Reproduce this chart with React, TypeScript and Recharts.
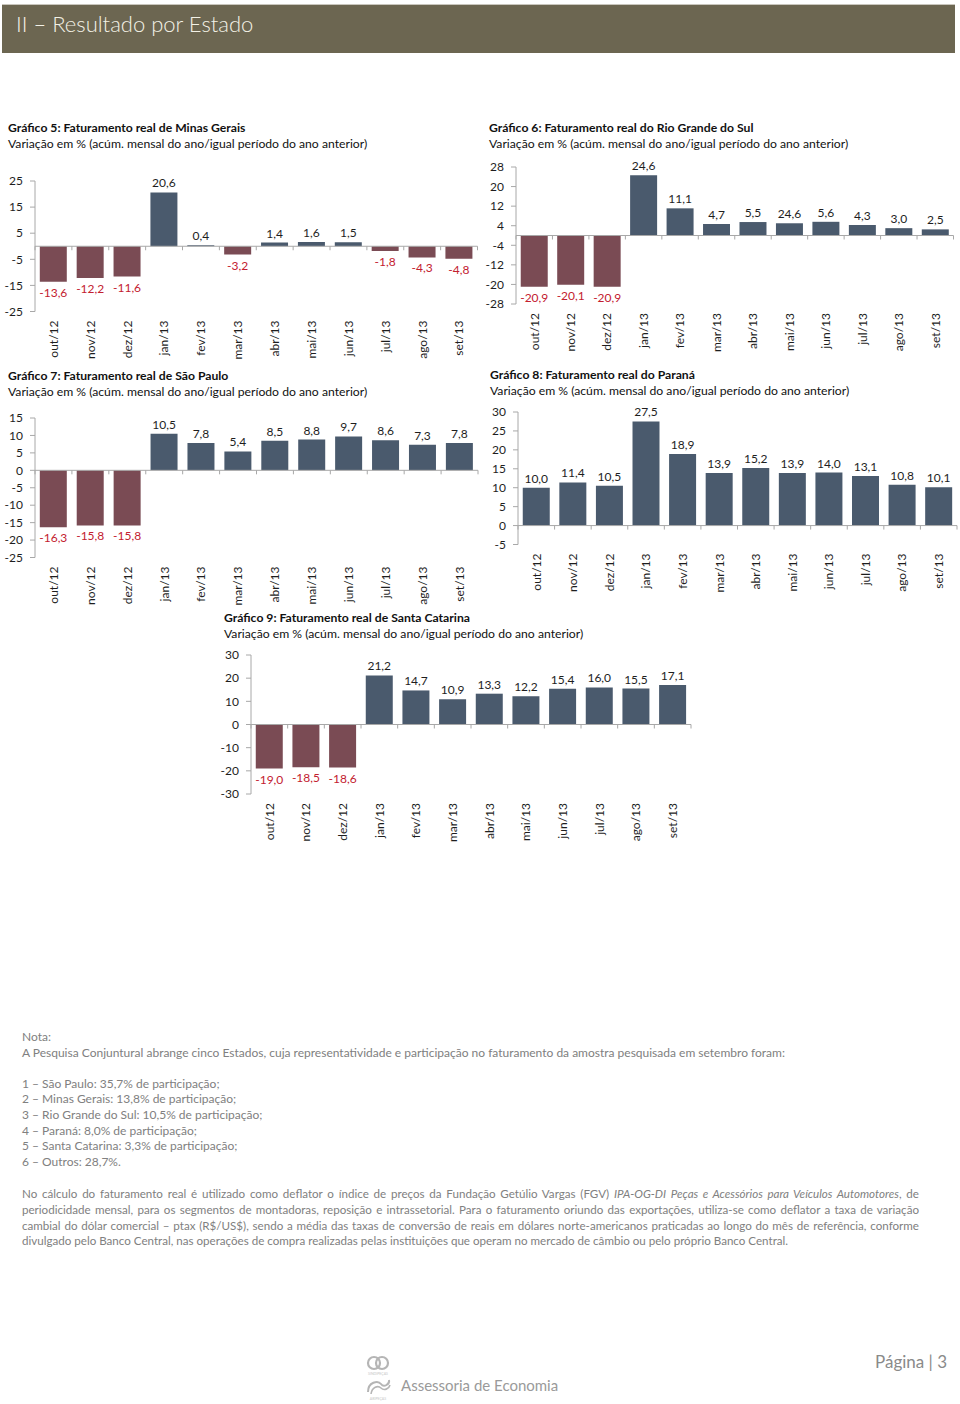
import React from 'react';
import { BarChart, Bar, XAxis, YAxis, Cell, LabelList, ReferenceLine } from 'recharts';

const FONT = 'Lato, "DejaVu Sans", sans-serif';
const POS = '#4a5a6d';
const NEG = '#7a4b54';
const NEG_TXT = '#c3202f';
const AXIS = '#a8a8a8';

const months = ['out/12', 'nov/12', 'dez/12', 'jan/13', 'fev/13', 'mar/13', 'abr/13', 'mai/13', 'jun/13', 'jul/13', 'ago/13', 'set/13'];

const mgValues = [-13.6, -12.2, -11.6, 20.6, 0.4, -3.2, 1.4, 1.6, 1.5, -1.8, -4.3, -4.8];
const mgTicks = [-25, -15, -5, 5, 15, 25];

const rsValues = [-20.9, -20.1, -20.9, 24.6, 11.1, 4.7, 5.5, 5.0, 5.6, 4.3, 3.0, 2.5];
const rsLabels = ['-20,9', '-20,1', '-20,9', '24,6', '11,1', '4,7', '5,5', '24,6', '5,6', '4,3', '3,0', '2,5'];
const rsTicks = [-28, -20, -12, -4, 4, 12, 20, 28];

const spValues = [-16.3, -15.8, -15.8, 10.5, 7.8, 5.4, 8.5, 8.8, 9.7, 8.6, 7.3, 7.8];
const spTicks = [-25, -20, -15, -10, -5, 0, 5, 10, 15];

const prValues = [10.0, 11.4, 10.5, 27.5, 18.9, 13.9, 15.2, 13.9, 14.0, 13.1, 10.8, 10.1];
const prTicks = [-5, 0, 5, 10, 15, 20, 25, 30];

const scValues = [-19.0, -18.5, -18.6, 21.2, 14.7, 10.9, 13.3, 12.2, 15.4, 16.0, 15.5, 17.1];
const scTicks = [-30, -20, -10, 0, 10, 20, 30];

const subtitle = 'Variação em % (acúm. mensal do ano/igual período do ano anterior)';

const fmt = (v: number) => v.toFixed(1).replace('.', ',');

const RotTick = (props: any) => {
  const { x, y, payload } = props;
  return (
    <text x={x} y={y} transform={`rotate(-90 ${x} ${y})`} textAnchor="end" dy="0.36em" fontSize={12} fill="#1e1e1e" fontFamily={FONT}>
      {payload.value}
    </text>
  );
};

const ValueLabel = (props: any) => {
  const { x, y, width, height, value } = props;
  const s = String(value);
  const neg = s.startsWith('-');
  const top = Math.min(y, y + height);
  const bottom = Math.max(y, y + height);
  const cx = x + width / 2;
  return (
    <text x={cx} y={neg ? bottom + 15 : top - 5} textAnchor="middle" fontSize={12} fill={neg ? NEG_TXT : '#1e1e1e'} fontFamily={FONT}>
      {s}
    </text>
  );
};

const makeZeroLine = (n: number) => (p: any) => {
  const { x1, x2, y1 } = p;
  const step = (x2 - x1) / n;
  const marks = [];
  for (let i = 0; i <= n; i++) {
    const xx = x1 + i * step;
    marks.push(<line key={i} x1={xx} x2={xx} y1={y1} y2={y1 + 4} stroke={AXIS} strokeWidth={1} />);
  }
  return (
    <g>
      <line x1={x1} x2={x2} y1={y1} y2={y1} stroke={AXIS} strokeWidth={1} />
      {marks}
    </g>
  );
};

type ChartProps = {
  title: string;
  titleX: number;
  titleY: number;
  plot: [number, number, number, number];
  values: number[];
  labels?: string[];
  ticks: number[];
};

const StateChart = ({ title, titleX, titleY, plot, values, labels, ticks }: ChartProps) => {
  const [pl, pt, pr, pb] = plot;
  const yw = 40;
  const cl = pl - yw;
  const ct = pt - 12;
  const w = pr - cl + 4;
  const xh = 60;
  const h = pb - ct + xh;
  const data = months.map((m, i) => ({ m, v: values[i], lab: labels ? labels[i] : fmt(values[i]) }));
  const dom: [number, number] = [ticks[0], ticks[ticks.length - 1]];
  return (
    <>
      <div style={{ position: 'absolute', left: titleX, top: titleY - 8, fontFamily: FONT, fontSize: 12.2, lineHeight: '16px', color: '#111', whiteSpace: 'nowrap' }}>
        <div style={{ fontWeight: 700 }}>{title}</div>
        <div>{subtitle}</div>
      </div>
      <div style={{ position: 'absolute', left: cl, top: ct }}>
        <BarChart width={w} height={h} data={data} margin={{ top: 12, right: 4, bottom: 0, left: 0 }} barCategoryGap="13%">
          <XAxis dataKey="m" type="category" interval={0} axisLine={false} tickLine={false} tickSize={0} tickMargin={9} height={xh} tick={RotTick} />
          <YAxis
            type="number"
            domain={dom}
            ticks={ticks}
            interval={0}
            width={yw}
            allowDataOverflow
            axisLine={{ stroke: AXIS }}
            tickLine={{ stroke: AXIS }}
            tickSize={5}
            tickMargin={7}
            tick={{ fontSize: 12, fill: '#1e1e1e', fontFamily: FONT }}
          />
          <Bar dataKey="v" isAnimationActive={false}>
            {data.map((d, i) => (
              <Cell key={i} fill={d.v >= 0 ? POS : NEG} />
            ))}
            <LabelList dataKey="lab" content={ValueLabel} />
          </Bar>
          <ReferenceLine y={0} shape={makeZeroLine(data.length)} ifOverflow="visible" />
        </BarChart>
      </div>
    </>
  );
};

const noteLines = [
  '1 – São Paulo: 35,7% de participação;',
  '2 – Minas Gerais: 13,8% de participação;',
  '3 – Rio Grande do Sul: 10,5% de participação;',
  '4 – Paraná: 8,0% de participação;',
  '5 – Santa Catarina: 3,3% de participação;',
  '6 – Outros: 28,7%.',
];

const Logo = () => (
  <svg width={30} height={48} style={{ position: 'absolute', left: 363, top: 1354 }}>
    <circle cx={11} cy={9} r={6} fill="none" stroke="#b5b5b5" strokeWidth={2.2} />
    <circle cx={19} cy={9} r={6} fill="none" stroke="#b5b5b5" strokeWidth={2.2} />
    <text x={15} y={21} textAnchor="middle" fontSize={3.5} fill="#c8c8c8" fontFamily={FONT}>SINDIPEÇAS</text>
    <path d="M5 38 C 5 28, 15 26, 18 30 C 21 34, 27 30, 26 26" fill="none" stroke="#b5b5b5" strokeWidth={2} />
    <path d="M8 40 C 9 33, 15 31, 18 34 C 21 37, 26 35, 27 31" fill="none" stroke="#b5b5b5" strokeWidth={1.6} />
    <text x={15} y={46} textAnchor="middle" fontSize={3.5} fill="#c8c8c8" fontFamily={FONT}>ABIPEÇAS</text>
  </svg>
);

const justifyLine: React.CSSProperties = { textAlign: 'justify', textAlignLast: 'justify' as any, whiteSpace: 'nowrap', overflow: 'visible' };

export default function App() {
  return (
    <div style={{ position: 'absolute', left: 0, top: 0, width: 960, height: 1404, background: '#fff', overflow: 'hidden' }}>
      <div style={{ position: 'absolute', left: 2, top: 4, width: 953, height: 49, background: '#6c6651', borderTop: '1px solid #c9c6bd', boxSizing: 'border-box' }} />
      <div style={{ position: 'absolute', left: 16, top: 10, fontFamily: FONT, fontWeight: 300, fontSize: 22, color: '#f3f1e6', whiteSpace: 'nowrap', lineHeight: '28px' }}>
        II – Resultado por Estado
      </div>

      <StateChart title="Gráfico 5: Faturamento real de Minas Gerais" titleX={8} titleY={128} plot={[35, 180.5, 477.5, 311]} values={mgValues} ticks={mgTicks} />
      <StateChart title="Gráfico 6: Faturamento real do Rio Grande do Sul" titleX={489} titleY={128} plot={[515.5, 166.5, 953, 303.5]} values={rsValues} labels={rsLabels} ticks={rsTicks} />
      <StateChart title="Gráfico 7: Faturamento real de São Paulo" titleX={8} titleY={376} plot={[35, 417.5, 478, 557]} values={spValues} ticks={spTicks} />
      <StateChart title="Gráfico 8: Faturamento real do Paraná" titleX={490} titleY={375} plot={[518, 411.5, 957, 544]} values={prValues} ticks={prTicks} />
      <StateChart title="Gráfico 9: Faturamento real de Santa Catarina" titleX={224} titleY={618} plot={[251, 655, 691, 794]} values={scValues} ticks={scTicks} />

      <div style={{ position: 'absolute', left: 22, top: 1029, width: 897, fontFamily: FONT, fontSize: 12, lineHeight: '15.6px', color: '#808080' }}>
        <div>Nota:</div>
        <div style={{ whiteSpace: 'nowrap' }}>A Pesquisa Conjuntural abrange cinco Estados, cuja representatividade e participação no faturamento da amostra pesquisada em setembro foram:</div>
        <div style={{ height: 15.6 }} />
        {noteLines.map((l, i) => (
          <div key={i} style={{ whiteSpace: 'nowrap' }}>{l}</div>
        ))}
        <div style={{ height: 17 }} />
        <div style={{ fontSize: 11.6 }}>
          <div style={justifyLine}>
            No cálculo do faturamento real é utilizado como deflator o índice de preços da Fundação Getúlio Vargas (FGV) <i>IPA-OG-DI Peças e Acessórios para Veículos Automotores</i>, de
          </div>
          <div style={justifyLine}>
            periodicidade mensal, para os segmentos de montadoras, reposição e intrassetorial. Para o faturamento oriundo das exportações, utiliza-se como deflator a taxa de variação
          </div>
          <div style={justifyLine}>
            cambial do dólar comercial – ptax (R$/US$), sendo a média das taxas de conversão de reais em dólares norte-americanos praticadas ao longo do mês de referência, conforme
          </div>
          <div style={{ whiteSpace: 'nowrap' }}>
            divulgado pelo Banco Central, nas operações de compra realizadas pelas instituições que operam no mercado de câmbio ou pelo próprio Banco Central.
          </div>
        </div>
      </div>

      <Logo />
      <div style={{ position: 'absolute', left: 401, top: 1375, fontFamily: FONT, fontSize: 15, color: '#9a9a9a', whiteSpace: 'nowrap', lineHeight: '20px' }}>
        Assessoria de Economia
      </div>
      <div style={{ position: 'absolute', left: 875, top: 1351, fontFamily: FONT, fontSize: 17, color: '#8a8a8a', whiteSpace: 'nowrap', lineHeight: '22px' }}>
        Página | 3
      </div>
    </div>
  );
}
